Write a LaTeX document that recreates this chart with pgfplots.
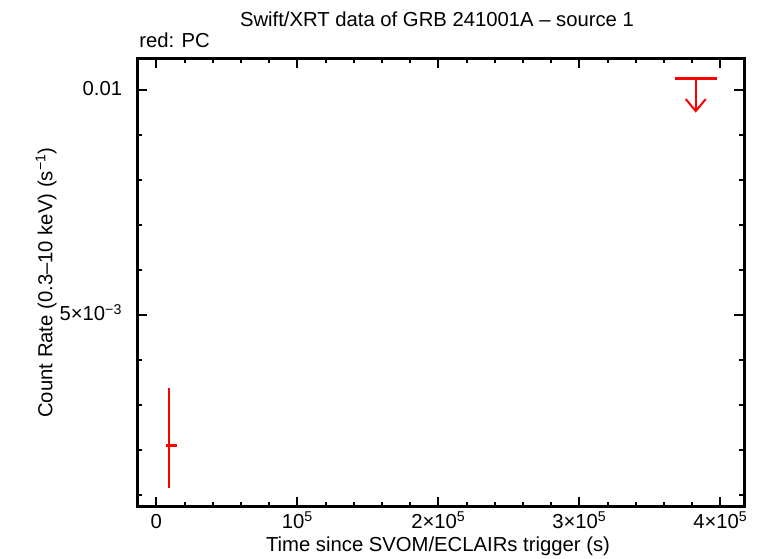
\documentclass[border=0pt]{standalone}
\usepackage{fontspec}
\setmainfont{Liberation Sans}
\usepackage{pgfplots}
\pgfplotsset{compat=1.18}
\usetikzlibrary{arrows.meta}
\newcommand{\fs}{\fontsize{15.2}{17}\selectfont}
\begin{document}
\begin{tikzpicture}
\path[use as bounding box] (0,0) rectangle (567.75pt,418.5pt);
\begin{axis}[
  at={(103pt,38.5pt)}, anchor=south west,
  scale only axis, width=455.25pt, height=336.3pt,
  xmin=-13475, xmax=417000, ymin=0.000741, ymax=0.010704,
  axis line style={line width=2.25pt},
  tick style={line width=1.5pt, black},
  major tick length=7.5pt, minor tick length=3.75pt,
  tick align=inside,
  scaled x ticks=false, scaled y ticks=false,
  xtick={0,100000,200000,300000,400000},
  xticklabels={0,10\textsuperscript{5},2×10\textsuperscript{5},3×10\textsuperscript{5},4×10\textsuperscript{5}},
  minor xtick={20000,40000,60000,80000,120000,140000,160000,180000,220000,240000,260000,280000,320000,340000,360000,380000},
  ytick={0.005,0.01},
  yticklabels={5×10\textsuperscript{−3},0.01},
  minor ytick={0.001,0.002,0.003,0.004,0.006,0.007,0.008,0.009},
  ticklabel style={font=\fs, inner sep=0pt},
  xticklabel style={anchor=base, yshift=-16.2pt},
  yticklabel style={anchor=base east, xshift=-11.25pt, yshift=-4.5pt},
  clip=false,
]
% detection: x error bar
\addplot[red, line width=2.25pt, mark=none,
  error bars/.cd, x dir=both, x explicit, error mark=none,
  error bar style={line width=2.25pt, red}]
  coordinates {(8800,0.002104) += (5670,0) -= (2130,0)};
% detection: y error bar
\addplot[red, line width=1.5pt, mark=none,
  error bars/.cd, y dir=both, y explicit, error mark=none,
  error bar style={line width=1.5pt, red}]
  coordinates {(8800,0.002104) += (0,0.001267) -= (0,0.000955)};
% upper limit
\addplot[red, line width=2.25pt, mark=none] coordinates {(367900,0.01026) (397700,0.01026)};
\addplot[red, line width=1.5pt, mark=none, -{Straight Barb[length=9pt,width=15pt,line width=1.5pt]}]
  coordinates {(382550,0.01026) (382550,0.009496)};
\end{axis}
\node[anchor=base, font=\fs] at (327.75pt,398.25pt) {Swift/XRT data of GRB 241001A – source 1};
\node[anchor=base west, inner sep=0pt, font=\fs] at (104.25pt,382.5pt) {red: PC};
\node[anchor=base, inner sep=0pt, font=\fs] at (328.5pt,5.25pt) {Time since SVOM/ECLAIRs trigger (s)};
\node[anchor=base, inner sep=0pt, rotate=90, font=\fs] at (39.2pt,206.6pt) {Count Rate (0.3–10 keV) (s\textsuperscript{−1})};
\end{tikzpicture}
\end{document}
